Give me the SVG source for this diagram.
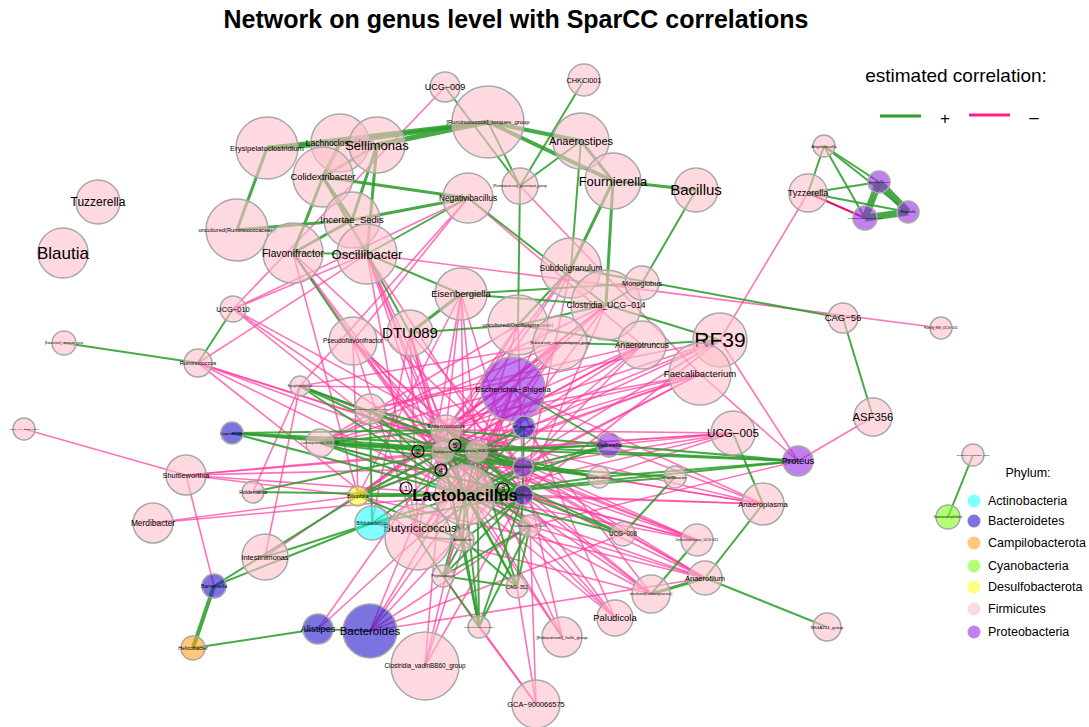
<svg xmlns="http://www.w3.org/2000/svg" width="1089" height="727" viewBox="0 0 1089 727">
<style>
text{font-family:"Liberation Sans",Arial,sans-serif;text-anchor:middle;fill:#000}
text.l{text-anchor:start}
circle.f,circle.b,circle.c,circle.y,circle.o,circle.g,circle.v,circle.d{fill-opacity:.6;stroke:#A8A8A8;stroke-width:1.5}
.f{fill:#FFC0CB}.b{fill:#2516CD}.c{fill:#2BFFFF}.y{fill:#FFFF2B}.o{fill:#FFA31E}.g{fill:#82FF1E}.v{fill:#962BE6}.d{fill:#5A0FC0}
circle.lg{stroke:none}
.mk{fill:none;stroke:#000;stroke-width:1.2}
</style>
<rect width="1089" height="727" fill="#fff"/>
<text x="516" y="28" font-size="25" font-weight="bold">Network on genus level with SparCC correlations</text>

<g id="connectors" fill="none">
<g id="neg" stroke="#FF3DA0" stroke-opacity=".72" stroke-width="1.6">
<line x1="367" y1="254" x2="465" y2="495"/><line x1="367" y1="254" x2="443" y2="452"/><line x1="367" y1="254" x2="446" y2="430"/><line x1="367" y1="254" x2="523" y2="495"/><line x1="367" y1="254" x2="463" y2="540"/><line x1="367" y1="254" x2="418" y2="537"/>
<line x1="293" y1="253" x2="465" y2="495"/><line x1="293" y1="253" x2="443" y2="452"/><line x1="293" y1="253" x2="358" y2="496"/><line x1="293" y1="253" x2="523" y2="467"/>
<line x1="233" y1="309" x2="367" y2="254"/><line x1="233" y1="309" x2="465" y2="495"/><line x1="233" y1="309" x2="443" y2="452"/><line x1="233" y1="309" x2="523" y2="467"/>
<line x1="198" y1="363" x2="367" y2="254"/><line x1="198" y1="363" x2="465" y2="495"/><line x1="198" y1="363" x2="443" y2="452"/><line x1="198" y1="363" x2="523" y2="467"/><line x1="198" y1="363" x2="477" y2="451"/><line x1="198" y1="363" x2="418" y2="537"/>
<line x1="353" y1="341" x2="465" y2="495"/><line x1="353" y1="341" x2="443" y2="452"/><line x1="353" y1="341" x2="477" y2="451"/><line x1="353" y1="341" x2="523" y2="495"/><line x1="353" y1="341" x2="530" y2="526"/><line x1="353" y1="341" x2="418" y2="537"/><line x1="353" y1="341" x2="358" y2="496"/>
<line x1="410" y1="333" x2="465" y2="495"/><line x1="410" y1="333" x2="443" y2="452"/><line x1="410" y1="333" x2="523" y2="467"/><line x1="410" y1="333" x2="418" y2="537"/><line x1="410" y1="333" x2="463" y2="540"/><line x1="410" y1="333" x2="372" y2="523"/>
<line x1="461" y1="294" x2="465" y2="495"/><line x1="461" y1="294" x2="477" y2="451"/><line x1="461" y1="294" x2="446" y2="430"/><line x1="461" y1="294" x2="523" y2="495"/><line x1="461" y1="294" x2="418" y2="537"/><line x1="461" y1="294" x2="358" y2="496"/>
<line x1="518" y1="325" x2="465" y2="495"/><line x1="518" y1="325" x2="443" y2="452"/><line x1="518" y1="325" x2="446" y2="430"/><line x1="518" y1="325" x2="523" y2="495"/><line x1="518" y1="325" x2="320" y2="443"/>
<line x1="560" y1="343" x2="465" y2="495"/><line x1="560" y1="343" x2="443" y2="452"/><line x1="560" y1="343" x2="477" y2="451"/><line x1="560" y1="343" x2="358" y2="496"/><line x1="560" y1="343" x2="446" y2="430"/><line x1="560" y1="343" x2="418" y2="537"/><line x1="560" y1="343" x2="300" y2="386"/><line x1="560" y1="343" x2="320" y2="443"/>
<line x1="606" y1="305" x2="465" y2="495"/><line x1="606" y1="305" x2="443" y2="452"/><line x1="606" y1="305" x2="523" y2="495"/><line x1="606" y1="305" x2="446" y2="430"/><line x1="606" y1="305" x2="320" y2="443"/><line x1="606" y1="305" x2="358" y2="496"/>
<line x1="642" y1="345" x2="465" y2="495"/><line x1="642" y1="345" x2="477" y2="451"/><line x1="642" y1="345" x2="443" y2="452"/><line x1="642" y1="345" x2="446" y2="430"/><line x1="642" y1="345" x2="523" y2="467"/><line x1="642" y1="345" x2="370" y2="409"/><line x1="642" y1="345" x2="358" y2="496"/>
<line x1="720" y1="340" x2="465" y2="495"/><line x1="720" y1="340" x2="443" y2="452"/><line x1="720" y1="340" x2="446" y2="430"/><line x1="720" y1="340" x2="523" y2="495"/><line x1="720" y1="340" x2="370" y2="409"/><line x1="720" y1="340" x2="798" y2="461"/><line x1="720" y1="340" x2="477" y2="451"/>
<line x1="700" y1="374" x2="465" y2="495"/><line x1="700" y1="374" x2="443" y2="452"/><line x1="700" y1="374" x2="477" y2="451"/><line x1="700" y1="374" x2="358" y2="496"/><line x1="700" y1="374" x2="523" y2="467"/><line x1="700" y1="374" x2="798" y2="461"/><line x1="700" y1="374" x2="446" y2="430"/><line x1="700" y1="374" x2="320" y2="443"/>
<line x1="571" y1="268" x2="465" y2="495"/><line x1="571" y1="268" x2="443" y2="452"/><line x1="571" y1="268" x2="523" y2="495"/><line x1="571" y1="268" x2="446" y2="430"/>
<line x1="468" y1="198" x2="233" y2="309"/><line x1="468" y1="198" x2="353" y2="341"/><line x1="468" y1="198" x2="300" y2="386"/><line x1="468" y1="198" x2="642" y2="345"/>
<line x1="520" y1="186" x2="700" y2="374"/><line x1="445" y1="87" x2="233" y2="309"/><line x1="808" y1="193" x2="720" y2="340"/><line x1="873" y1="417" x2="798" y2="461"/><line x1="367" y1="254" x2="941" y2="328"/>
<line x1="733" y1="433" x2="465" y2="495"/><line x1="733" y1="433" x2="477" y2="451"/><line x1="733" y1="433" x2="609" y2="445"/><line x1="733" y1="433" x2="599" y2="477"/><line x1="733" y1="433" x2="523" y2="467"/><line x1="733" y1="433" x2="443" y2="452"/><line x1="733" y1="433" x2="446" y2="430"/>
<line x1="798" y1="461" x2="530" y2="526"/>
<line x1="763" y1="504" x2="465" y2="495"/><line x1="763" y1="504" x2="443" y2="452"/><line x1="763" y1="504" x2="523" y2="495"/><line x1="763" y1="504" x2="609" y2="445"/><line x1="763" y1="504" x2="446" y2="430"/><line x1="763" y1="504" x2="599" y2="477"/>
<line x1="697" y1="540" x2="465" y2="495"/><line x1="697" y1="540" x2="477" y2="451"/><line x1="697" y1="540" x2="523" y2="495"/><line x1="697" y1="540" x2="443" y2="452"/><line x1="697" y1="540" x2="446" y2="430"/>
<line x1="705" y1="578" x2="465" y2="495"/><line x1="705" y1="578" x2="443" y2="452"/><line x1="705" y1="578" x2="523" y2="467"/><line x1="705" y1="578" x2="477" y2="451"/><line x1="705" y1="578" x2="530" y2="526"/><line x1="705" y1="578" x2="446" y2="430"/>
<line x1="651" y1="594" x2="465" y2="495"/><line x1="651" y1="594" x2="443" y2="452"/><line x1="651" y1="594" x2="523" y2="495"/><line x1="651" y1="594" x2="477" y2="451"/><line x1="651" y1="594" x2="524" y2="427"/>
<line x1="615" y1="618" x2="465" y2="495"/><line x1="615" y1="618" x2="523" y2="495"/><line x1="615" y1="618" x2="443" y2="452"/><line x1="615" y1="618" x2="446" y2="430"/>
<line x1="562" y1="637" x2="465" y2="495"/><line x1="562" y1="637" x2="523" y2="467"/><line x1="562" y1="637" x2="477" y2="451"/><line x1="562" y1="637" x2="443" y2="452"/>
<line x1="536" y1="704" x2="479" y2="627"/><line x1="536" y1="704" x2="443" y2="576"/><line x1="536" y1="704" x2="517" y2="587"/><line x1="536" y1="704" x2="530" y2="526"/>
<line x1="425" y1="666" x2="465" y2="495"/><line x1="425" y1="666" x2="523" y2="495"/><line x1="425" y1="666" x2="443" y2="452"/>
<line x1="370" y1="631" x2="465" y2="495"/><line x1="370" y1="631" x2="443" y2="452"/><line x1="370" y1="631" x2="523" y2="467"/><line x1="370" y1="631" x2="477" y2="451"/><line x1="370" y1="631" x2="530" y2="526"/><line x1="370" y1="631" x2="705" y2="578"/><line x1="370" y1="631" x2="623" y2="534"/>
<line x1="318" y1="629" x2="465" y2="495"/><line x1="318" y1="629" x2="443" y2="452"/>
<line x1="265" y1="557" x2="300" y2="386"/><line x1="186" y1="475" x2="214" y2="586"/><line x1="24" y1="429" x2="186" y2="475"/>
<line x1="186" y1="475" x2="465" y2="495"/><line x1="186" y1="475" x2="443" y2="452"/><line x1="186" y1="475" x2="358" y2="496"/><line x1="186" y1="475" x2="477" y2="451"/><line x1="186" y1="475" x2="523" y2="467"/>
<line x1="153" y1="523" x2="465" y2="495"/><line x1="153" y1="523" x2="358" y2="496"/><line x1="253" y1="492" x2="300" y2="386"/>
<line x1="513" y1="389" x2="465" y2="495"/><line x1="513" y1="389" x2="418" y2="537"/><line x1="513" y1="389" x2="358" y2="496"/><line x1="513" y1="389" x2="320" y2="443"/><line x1="513" y1="389" x2="425" y2="666"/><line x1="513" y1="389" x2="443" y2="576"/><line x1="513" y1="389" x2="265" y2="557"/><line x1="513" y1="389" x2="300" y2="386"/><line x1="513" y1="389" x2="763" y2="504"/><line x1="513" y1="389" x2="615" y2="618"/>
<line x1="358" y1="496" x2="705" y2="578"/><line x1="320" y1="443" x2="697" y2="540"/><line x1="300" y1="386" x2="697" y2="540"/><line x1="372" y1="523" x2="651" y2="594"/>
<line x1="808" y1="193" x2="865" y2="218" stroke="#E8106E" stroke-opacity="1" stroke-width="2"/>
</g>
<g id="pos" stroke="#2E9E2E" stroke-opacity=".88" stroke-width="2">
<line x1="267" y1="148" x2="340" y2="143" stroke-width="5"/><line x1="267" y1="148" x2="488" y2="122" stroke-width="4"/><line x1="340" y1="143" x2="488" y2="122" stroke-width="4"/><line x1="377" y1="145" x2="488" y2="122" stroke-width="5"/>
<line x1="323" y1="177" x2="340" y2="143" stroke-width="4"/><line x1="323" y1="177" x2="377" y2="145" stroke-width="3"/><line x1="267" y1="148" x2="237" y2="230" stroke-width="3"/><line x1="323" y1="177" x2="293" y2="253" stroke-width="3"/>
<line x1="323" y1="177" x2="352" y2="220" stroke-width="3"/><line x1="323" y1="177" x2="367" y2="254" stroke-width="3"/><line x1="377" y1="145" x2="352" y2="220" stroke-width="3"/><line x1="377" y1="145" x2="367" y2="254" stroke-width="3"/>
<line x1="323" y1="177" x2="468" y2="198" stroke-width="3"/><line x1="352" y1="220" x2="468" y2="198" stroke-width="3"/><line x1="237" y1="230" x2="352" y2="220" stroke-width="3"/><line x1="293" y1="253" x2="352" y2="220" stroke-width="3"/><line x1="293" y1="253" x2="367" y2="254"/>
<line x1="488" y1="122" x2="581" y2="141" stroke-width="4"/><line x1="488" y1="122" x2="613" y2="181" stroke-width="4"/><line x1="581" y1="141" x2="613" y2="181" stroke-width="3"/>
<line x1="488" y1="122" x2="520" y2="186"/><line x1="445" y1="87" x2="520" y2="186"/><line x1="584" y1="80" x2="520" y2="186"/><line x1="520" y1="186" x2="581" y2="141"/><line x1="468" y1="198" x2="367" y2="254"/>
<line x1="613" y1="181" x2="696" y2="190" stroke-width="3"/><line x1="613" y1="181" x2="571" y2="268" stroke-width="3"/><line x1="613" y1="181" x2="606" y2="305" stroke-width="3"/><line x1="581" y1="141" x2="571" y2="268"/><line x1="696" y1="190" x2="642" y2="283"/>
<line x1="468" y1="198" x2="606" y2="305"/><line x1="520" y1="186" x2="518" y2="325"/><line x1="367" y1="254" x2="461" y2="294"/><line x1="410" y1="333" x2="461" y2="294" stroke-width="3"/><line x1="410" y1="333" x2="518" y2="325"/>
<line x1="461" y1="294" x2="606" y2="305"/><line x1="461" y1="294" x2="642" y2="283"/><line x1="518" y1="325" x2="571" y2="268"/><line x1="518" y1="325" x2="606" y2="305"/><line x1="606" y1="305" x2="642" y2="283"/>
<line x1="571" y1="268" x2="843" y2="318"/><line x1="843" y1="318" x2="873" y2="417"/><line x1="642" y1="345" x2="720" y2="340"/><line x1="606" y1="305" x2="720" y2="340"/><line x1="560" y1="343" x2="642" y2="345"/><line x1="518" y1="325" x2="642" y2="345"/>
<line x1="353" y1="341" x2="293" y2="253"/><line x1="367" y1="254" x2="410" y2="333"/><line x1="198" y1="363" x2="233" y2="309"/><line x1="198" y1="363" x2="64" y2="343"/>
<line x1="824" y1="146" x2="808" y2="193"/><line x1="824" y1="146" x2="879" y2="182"/><line x1="824" y1="146" x2="908" y2="212"/><line x1="824" y1="146" x2="865" y2="218"/><line x1="808" y1="193" x2="879" y2="182"/><line x1="808" y1="193" x2="908" y2="212"/>
<line x1="879" y1="182" x2="865" y2="218" stroke-width="7"/><line x1="879" y1="182" x2="908" y2="212" stroke-width="7"/><line x1="908" y1="212" x2="865" y2="218" stroke-width="7"/>
<line x1="973" y1="455" x2="948" y2="517"/>
<line x1="214" y1="586" x2="193" y2="648" stroke-width="4"/><line x1="193" y1="648" x2="318" y2="629"/><line x1="318" y1="629" x2="370" y2="631"/><line x1="358" y1="496" x2="214" y2="586"/><line x1="372" y1="523" x2="214" y2="586"/><line x1="372" y1="523" x2="265" y2="557"/><line x1="370" y1="409" x2="372" y2="523"/>
<line x1="253" y1="492" x2="465" y2="495"/><line x1="253" y1="492" x2="443" y2="452"/>
<line x1="705" y1="578" x2="763" y2="504"/><line x1="705" y1="578" x2="827" y2="627"/><line x1="705" y1="578" x2="651" y2="594" stroke-width="3"/><line x1="697" y1="540" x2="651" y2="594"/><line x1="733" y1="433" x2="763" y2="504"/><line x1="675" y1="477" x2="623" y2="534"/>
<line x1="798" y1="461" x2="609" y2="445"/><line x1="798" y1="461" x2="599" y2="477"/><line x1="798" y1="461" x2="232" y2="433"/><line x1="798" y1="461" x2="320" y2="443"/><line x1="513" y1="389" x2="609" y2="445"/>
<line x1="465" y1="495" x2="446" y2="430"/><line x1="465" y1="495" x2="443" y2="452"/><line x1="465" y1="495" x2="477" y2="451"/><line x1="465" y1="495" x2="524" y2="427"/><line x1="465" y1="495" x2="523" y2="467"/><line x1="465" y1="495" x2="523" y2="495" stroke-width="3"/>
<line x1="465" y1="495" x2="609" y2="445"/><line x1="465" y1="495" x2="599" y2="477"/><line x1="465" y1="495" x2="463" y2="540"/><line x1="465" y1="495" x2="530" y2="526"/><line x1="465" y1="495" x2="517" y2="587"/><line x1="465" y1="495" x2="443" y2="576"/>
<line x1="465" y1="495" x2="479" y2="627"/><line x1="465" y1="495" x2="358" y2="496"/><line x1="465" y1="495" x2="372" y2="523"/><line x1="465" y1="495" x2="300" y2="386"/><line x1="465" y1="495" x2="320" y2="443"/><line x1="465" y1="495" x2="370" y2="409"/>
<line x1="465" y1="495" x2="232" y2="433"/><line x1="465" y1="495" x2="623" y2="534"/><line x1="465" y1="495" x2="798" y2="461"/><line x1="465" y1="495" x2="675" y2="477"/>
<line x1="443" y1="452" x2="320" y2="443"/><line x1="443" y1="452" x2="300" y2="386"/><line x1="443" y1="452" x2="477" y2="451"/><line x1="443" y1="452" x2="523" y2="467"/><line x1="443" y1="452" x2="523" y2="495"/><line x1="443" y1="452" x2="358" y2="496"/><line x1="443" y1="452" x2="609" y2="445"/>
<line x1="443" y1="452" x2="599" y2="477"/><line x1="443" y1="452" x2="530" y2="526"/><line x1="443" y1="452" x2="232" y2="433"/><line x1="443" y1="452" x2="517" y2="587"/><line x1="443" y1="452" x2="479" y2="627"/><line x1="443" y1="452" x2="623" y2="534"/>
<line x1="477" y1="451" x2="523" y2="467"/><line x1="477" y1="451" x2="523" y2="495"/><line x1="477" y1="451" x2="609" y2="445"/><line x1="477" y1="451" x2="599" y2="477"/><line x1="477" y1="451" x2="524" y2="427"/><line x1="477" y1="451" x2="446" y2="430"/><line x1="477" y1="451" x2="358" y2="496"/>
<line x1="477" y1="451" x2="372" y2="523"/><line x1="477" y1="451" x2="517" y2="587"/><line x1="477" y1="451" x2="479" y2="627"/><line x1="477" y1="451" x2="320" y2="443"/><line x1="477" y1="451" x2="232" y2="433"/><line x1="477" y1="451" x2="300" y2="386"/>
<line x1="446" y1="430" x2="523" y2="467"/><line x1="446" y1="430" x2="523" y2="495"/><line x1="446" y1="430" x2="609" y2="445"/><line x1="446" y1="430" x2="320" y2="443"/><line x1="446" y1="430" x2="370" y2="409"/><line x1="446" y1="430" x2="232" y2="433"/>
<line x1="523" y1="495" x2="443" y2="576"/><line x1="523" y1="495" x2="479" y2="627"/><line x1="523" y1="495" x2="517" y2="587"/><line x1="523" y1="495" x2="463" y2="540"/><line x1="523" y1="495" x2="623" y2="534"/><line x1="523" y1="495" x2="358" y2="496"/><line x1="523" y1="495" x2="372" y2="523"/><line x1="523" y1="495" x2="320" y2="443"/>
<line x1="523" y1="467" x2="599" y2="477"/><line x1="523" y1="467" x2="609" y2="445"/><line x1="523" y1="467" x2="675" y2="477"/><line x1="523" y1="467" x2="524" y2="427"/><line x1="523" y1="467" x2="523" y2="495"/><line x1="523" y1="467" x2="320" y2="443"/><line x1="523" y1="467" x2="300" y2="386"/>
<line x1="463" y1="540" x2="443" y2="576"/><line x1="463" y1="540" x2="479" y2="627"/><line x1="463" y1="540" x2="517" y2="587"/><line x1="463" y1="540" x2="358" y2="496"/>
<line x1="530" y1="526" x2="517" y2="587"/><line x1="530" y1="526" x2="479" y2="627"/><line x1="530" y1="526" x2="443" y2="576"/><line x1="443" y1="576" x2="517" y2="587"/><line x1="443" y1="576" x2="479" y2="627"/>
<line x1="418" y1="537" x2="443" y2="576"/><line x1="418" y1="537" x2="463" y2="540"/><line x1="418" y1="537" x2="523" y2="467"/>
</g>
</g>

<g id="nodes">
<g id="n-ucg009"><circle class="f" cx="445" cy="87" r="15"/><text x="445" y="90" font-size="9">UCG−009</text></g>
<g id="n-chkci001"><circle class="f" cx="584" cy="80" r="16"/><text x="584" y="82.5" font-size="7.3">CHKCI001</text></g>
<g id="n-torques"><circle class="f" cx="488" cy="122" r="36"/><text x="488" y="124" font-size="5.9">[Ruminococcus]_torques_group</text></g>
<g id="n-erysipelatoclostridium"><circle class="f" cx="267" cy="148" r="31"/><text x="267" y="150.7" font-size="7.6">Erysipelatoclostridium</text></g>
<g id="n-lachnoclostridium"><circle class="f" cx="340" cy="143" r="29"/><text x="340" y="146" font-size="8.5">Lachnoclostridium</text></g>
<g id="n-sellimonas"><circle class="f" cx="377" cy="145" r="28"/><text x="377" y="149.5" font-size="13">Sellimonas</text></g>
<g id="n-colidextribacter"><circle class="f" cx="323" cy="177" r="30"/><text x="323" y="180.3" font-size="9.4">Colidextribacter</text></g>
<g id="n-incertae"><circle class="f" cx="352" cy="220" r="28"/><text x="352" y="223.3" font-size="9.5">Incertae_Sedis</text></g>
<g id="n-uncult-rumino"><circle class="f" cx="237" cy="230" r="31"/><text x="237" y="232" font-size="5.7">uncultured(Ruminococcaceae)</text></g>
<g id="n-flavonifractor"><circle class="f" cx="293" cy="253" r="30"/><text x="293" y="256.5" font-size="10.2">Flavonifractor</text></g>
<g id="n-oscillibacter"><circle class="f" cx="367" cy="254" r="30"/><text x="367" y="258.5" font-size="13">Oscillibacter</text></g>
<g id="n-negativibacillus"><circle class="f" cx="468" cy="198" r="25"/><text x="468" y="201" font-size="8.4">Negativibacillus</text></g>
<g id="n-gauvreauii"><circle class="f" cx="520" cy="186" r="18"/><text x="520" y="187.2" font-size="3.5">[Ruminococcus]_gauvreauii_group</text></g>
<g id="n-anaerostipes"><circle class="f" cx="581" cy="141" r="28"/><text x="581" y="145" font-size="11">Anaerostipes</text></g>
<g id="n-fournierella"><circle class="f" cx="613" cy="181" r="28"/><text x="613" y="185.5" font-size="13">Fournierella</text></g>
<g id="n-bacillus"><circle class="f" cx="696" cy="190" r="22"/><text x="696" y="195" font-size="15">Bacillus</text></g>
<g id="n-tuzzerella"><circle class="f" cx="98" cy="202" r="22"/><text x="98" y="206" font-size="12">Tuzzerella</text></g>
<g id="n-blautia"><circle class="f" cx="63" cy="253" r="25"/><text x="63" y="259" font-size="17">Blautia</text></g>
<g id="n-subdoligranulum"><circle class="f" cx="571" cy="268" r="30"/><text x="571" y="271" font-size="8.4">Subdoligranulum</text></g>
<g id="n-cucg014"><circle class="f" cx="606" cy="305" r="35"/><text x="606" y="308" font-size="8.6">Clostridia_UCG−014</text></g>
<g id="n-monoglobus"><circle class="f" cx="642" cy="283" r="17"/><text x="642" y="285.5" font-size="7.3">Monoglobus</text></g>
<g id="n-eisenbergiella"><circle class="f" cx="461" cy="294" r="26"/><text x="461" y="297.3" font-size="9.5">Eisenbergiella</text></g>
<g id="n-uncult-oscillo"><circle class="f" cx="518" cy="325" r="30"/><text x="518" y="327" font-size="5.6">uncultured(Oscillospiraceae)</text></g>
<g id="n-coprostanoligenes"><circle class="f" cx="560" cy="343" r="27"/><text x="560" y="344.2" font-size="3.3">[Eubacterium]_coprostanoligenes_group</text></g>
<g id="n-dtu089"><circle class="f" cx="410" cy="333" r="23"/><text x="410" y="338" font-size="15">DTU089</text></g>
<g id="n-pseudoflavonifractor"><circle class="f" cx="353" cy="341" r="24"/><text x="353" y="343.3" font-size="6.6">Pseudoflavonifractor</text></g>
<g id="n-anaerotruncus"><circle class="f" cx="642" cy="345" r="24"/><text x="642" y="348" font-size="8.3">Anaerotruncus</text></g>
<g id="n-rf39"><circle class="f" cx="720" cy="340" r="27"/><text x="720" y="347" font-size="21">RF39</text></g>
<g id="n-faecalibacterium"><circle class="f" cx="700" cy="374" r="31"/><text x="700" y="377.3" font-size="9.5">Faecalibacterium</text></g>
<g id="n-escherichia"><circle class="v" cx="513" cy="389" r="32"/><text x="513" y="392" font-size="8.1">Escherichia−Shigella</text></g>
<g id="n-ruminococcus"><circle class="f" cx="198" cy="363" r="14"/><text x="198" y="365" font-size="5.6">Ruminococcus</text></g>
<g id="n-ucg010"><circle class="f" cx="233" cy="309" r="13"/><text x="233" y="311.6" font-size="7.5">UCG−010</text></g>
<g id="n-ventriosum"><circle class="f" cx="64" cy="343" r="12"/><text x="64" y="344" font-size="2.6">[Eubacterium]_ventriosum_group</text></g>
<g id="n-family13"><circle class="f" cx="24" cy="429" r="11"/><text x="24" y="430" font-size="2.4">Family_XIII_AD3011_group</text></g>
<g id="n-coprobacter"><circle class="b" cx="232" cy="433" r="11"/><text x="232" y="434.5" font-size="4.4">Coprobacter</text></g>
<g id="n-erysipelotrichaceae"><circle class="f" cx="300" cy="386" r="10"/><text x="300" y="387" font-size="2.8">Erysipelotrichaceae</text></g>
<g id="n-lachno-ucg010"><circle class="f" cx="320" cy="443" r="14"/><text x="320" y="444" font-size="3">Lachnospiraceae_UCG−010</text></g>
<g id="n-lachno-ac2044"><circle class="f" cx="370" cy="409" r="15"/><text x="370" y="410" font-size="2.4">Lachnospiraceae_AC2044_group</text></g>
<g id="n-shuttleworthia"><circle class="f" cx="186" cy="475" r="20"/><text x="186" y="477.6" font-size="7.4">Shuttleworthia</text></g>
<g id="n-holdemania"><circle class="f" cx="253" cy="492" r="11"/><text x="253" y="493.8" font-size="5.2">Holdemania</text></g>
<g id="n-merdibacter"><circle class="f" cx="153" cy="523" r="20"/><text x="153" y="526" font-size="8.4">Merdibacter</text></g>
<g id="n-intestinimonas"><circle class="f" cx="265" cy="557" r="23"/><text x="265" y="559.6" font-size="7.3">Intestinimonas</text></g>
<g id="n-butyricicoccus"><circle class="f" cx="418" cy="537" r="33"/><text x="420" y="532" font-size="11.5">Butyricicoccus</text></g>
<g id="n-bilophila"><circle class="y" cx="358" cy="496" r="10"/><text x="358" y="498" font-size="5.7">Bilophila</text></g>
<g id="n-bifidobacterium"><circle class="c" cx="372" cy="523" r="17"/><text x="372" y="524.6" font-size="4.5">Bifidobacterium</text></g>
<g id="n-barnesiella"><circle class="b" cx="214" cy="586" r="12"/><text x="214" y="587.8" font-size="5.3">Barnesiella</text></g>
<g id="n-helicobacter"><circle class="o" cx="193" cy="648" r="12"/><text x="193" y="649.8" font-size="5.3">Helicobacter</text></g>
<g id="n-alistipes"><circle class="b" cx="318" cy="629" r="15"/><text x="318" y="632.3" font-size="9.4">Alistipes</text></g>
<g id="n-bacteroides"><circle class="b" cx="370" cy="631" r="27"/><text x="370" y="635" font-size="11.5">Bacteroides</text></g>
<g id="n-vadinbb60"><circle class="f" cx="425" cy="666" r="34"/><text x="425" y="668.2" font-size="6.4">Clostridia_vadinBB60_group</text></g>
<g id="n-gca"><circle class="f" cx="536" cy="704" r="24"/><text x="536" y="706.6" font-size="7.4">GCA−900066575</text></g>
<g id="n-hallii"><circle class="f" cx="562" cy="637" r="20"/><text x="562" y="638.5" font-size="4.3">[Eubacterium]_hallii_group</text></g>
<g id="n-paludicola"><circle class="f" cx="615" cy="618" r="18"/><text x="615" y="621.3" font-size="9.4">Paludicola</text></g>
<g id="n-uncult-lachno"><circle class="f" cx="651" cy="594" r="19"/><text x="651" y="595.2" font-size="3.3">uncultured(Lachnospiraceae)</text></g>
<g id="n-cag352"><circle class="f" cx="517" cy="587" r="11"/><text x="517" y="588.7" font-size="4.9">CAG−352</text></g>
<g id="n-uncult-pepto"><circle class="f" cx="479" cy="627" r="11"/><text x="479" y="628" font-size="2.4">uncultured(Peptococcaceae)</text></g>
<g id="n-peptococcus"><circle class="f" cx="443" cy="576" r="11"/><text x="443" y="577.4" font-size="4">Peptococcus</text></g>
<g id="n-anaerofustis"><circle class="f" cx="463" cy="540" r="11"/><text x="463" y="541.2" font-size="3.5">Anaerofustis</text></g>
<g id="n-lachno-ucg004"><circle class="f" cx="530" cy="526" r="11"/><text x="530" y="527" font-size="2.6">Lachnospiraceae_UCG−004</text></g>
<g id="n-ucg008"><circle class="f" cx="623" cy="534" r="12"/><text x="623" y="536.2" font-size="6.3">UCG−008</text></g>
<g id="n-defluviitaleaceae"><circle class="f" cx="697" cy="540" r="16"/><text x="697" y="541.2" font-size="3.4">Defluviitaleaceae_UCG−011</text></g>
<g id="n-anaerofilum"><circle class="f" cx="705" cy="578" r="17"/><text x="705" y="580.6" font-size="7.5">Anaerofilum</text></g>
<g id="n-anaeroplasma"><circle class="f" cx="763" cy="504" r="21"/><text x="763" y="506.7" font-size="7.7">Anaeroplasma</text></g>
<g id="n-nk4a214"><circle class="f" cx="827" cy="627" r="14"/><text x="827" y="628.5" font-size="4.4">NK4A214_group</text></g>
<g id="n-ucg005"><circle class="f" cx="733" cy="433" r="22"/><text x="733" y="437" font-size="11.6">UCG−005</text></g>
<g id="n-proteus"><circle class="v" cx="798" cy="461" r="15"/><text x="798" y="464.3" font-size="9.4">Proteus</text></g>
<g id="n-klebsiella"><circle class="v" cx="609" cy="445" r="12"/><text x="609" y="447" font-size="6">Klebsiella</text></g>
<g id="n-streptococcus"><circle class="f" cx="599" cy="477" r="11"/><text x="599" y="478.5" font-size="4.3">Streptococcus</text></g>
<g id="n-papillibacter"><circle class="f" cx="675" cy="477" r="11"/><text x="675" y="478.5" font-size="4.3">Papillibacter</text></g>
<g id="n-cag56"><circle class="f" cx="843" cy="318" r="15"/><text x="843" y="321.3" font-size="9.5">CAG−56</text></g>
<g id="n-family13-ucg001"><circle class="f" cx="941" cy="328" r="11"/><text x="941" y="329.2" font-size="3.4">Family_XIII_UCG−001</text></g>
<g id="n-asf356"><circle class="f" cx="873" cy="417" r="19"/><text x="873" y="421" font-size="11.3">ASF356</text></g>
<g id="n-nodatum"><circle class="f" cx="973" cy="455" r="11"/><text x="973" y="456" font-size="2.4">[Eubacterium]_nodatum_group</text></g>
<g id="n-gastranaerophilales"><circle class="g" cx="948" cy="517" r="12"/><text x="948" y="518.1" font-size="3.2">Gastranaerophilales</text></g>
<g id="n-tyzzerella"><circle class="f" cx="808" cy="193" r="19"/><text x="808" y="196.2" font-size="9">Tyzzerella</text></g>
<g id="n-angelakisella"><circle class="f" cx="824" cy="146" r="11"/><text x="824" y="147.5" font-size="4.3">Angelakisella</text></g>
<g id="n-enterobacteriaceae"><circle class="v" cx="879" cy="182" r="11"/><text x="879" y="183" font-size="2.5">Enterobacteriaceae</text></g>
<g id="n-morganella"><circle class="v" cx="908" cy="212" r="11"/><text x="908" y="213" font-size="3">Morganella</text></g>
<g id="n-uncult-entero"><circle class="v" cx="865" cy="218" r="12"/><text x="865" y="219" font-size="2.5">uncultured(Enterobacteriaceae)</text></g>
<g id="n-parabacteroides"><circle class="b" cx="524" cy="427" r="11"/><text x="524" y="428" font-size="3">Parabacteroides</text></g>
<g id="n-enterobacter"><circle class="v" cx="523" cy="467" r="10"/><text x="523" y="468" font-size="3">Enterobacter</text></g>
<g id="n-pseudomonas"><circle class="d" cx="523" cy="495" r="10"/><text x="523" y="496" font-size="3">Pseudomonas</text></g>
<g id="n-enterococcus"><circle class="f" cx="446" cy="430" r="15"/><text x="446" y="428" font-size="6.2">Enterococcus</text></g>
<g id="n-staphylococcus"><circle class="f" cx="443" cy="452" r="11"/><text x="443" y="453" font-size="2.8">Staphylococcus</text></g>
<g id="n-nk4a136"><circle class="f" cx="477" cy="451" r="11"/><text x="477" y="452" font-size="2.6">Lachnospiraceae_NK4A136_group</text></g>
<g id="n-lactobacillus"><circle class="f" cx="465" cy="495" r="30"/><text x="465" y="501" font-size="16.5" font-weight="bold">Lactobacillus</text></g>
</g>

<g id="markers">
<circle class="mk" cx="406" cy="488" r="6"/><text x="406" y="491" font-size="8">1</text>
<circle class="mk" cx="418" cy="451" r="6"/><text x="418" y="454" font-size="8">2</text>
<circle class="mk" cx="503" cy="489" r="6"/><text x="503" y="492" font-size="8">3</text>
<circle class="mk" cx="441" cy="470" r="6"/><text x="441" y="473" font-size="8">4</text>
<circle class="mk" cx="455" cy="445" r="6"/><text x="455" y="448" font-size="8">5</text>
</g>

<g id="legend-correlation">
<text x="956" y="82" font-size="19">estimated correlation:</text>
<line x1="880" y1="116" x2="921" y2="116" stroke="#2E9E2E" stroke-width="3"/>
<text x="945" y="124" font-size="17">+</text>
<line x1="969" y1="115" x2="1010" y2="115" stroke="#FF1E8C" stroke-width="3"/>
<text x="1034" y="123" font-size="17">–</text>
</g>
<g id="legend-phylum">
<text x="1028" y="477" font-size="12.5">Phylum:</text>
<circle class="c lg" cx="974" cy="501" r="6.5"/><text class="l" x="988" y="505" font-size="12.5">Actinobacteria</text>
<circle class="b lg" cx="974" cy="521" r="6.5"/><text class="l" x="988" y="525" font-size="12.5">Bacteroidetes</text>
<circle class="o lg" cx="974" cy="543" r="6.5"/><text class="l" x="988" y="547" font-size="12.5">Campilobacterota</text>
<circle class="g lg" cx="974" cy="566" r="6.5"/><text class="l" x="988" y="570" font-size="12.5">Cyanobacteria</text>
<circle class="y lg" cx="974" cy="587" r="6.5"/><text class="l" x="988" y="591" font-size="12.5">Desulfobacterota</text>
<circle class="f lg" cx="974" cy="609" r="6.5"/><text class="l" x="988" y="613" font-size="12.5">Firmicutes</text>
<circle class="v lg" cx="974" cy="632" r="6.5"/><text class="l" x="988" y="636" font-size="12.5">Proteobacteria</text>
</g>
</svg>
